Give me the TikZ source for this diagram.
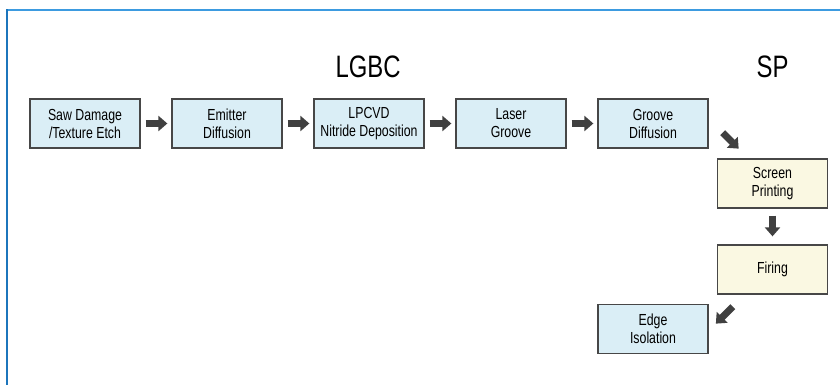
\documentclass[tikz,border=0pt]{standalone}
\usepackage{fontspec}
\setmainfont{Liberation Sans}[FakeStretch=0.77]
\usetikzlibrary{arrows.meta}

\definecolor{framebl}{HTML}{1C75BC}
\definecolor{framelt}{HTML}{3D9BE0}
\definecolor{stepbl}{HTML}{DAEEF6}
\definecolor{stepye}{HTML}{FAF8E2}
\definecolor{arrgr}{HTML}{404040}

\begin{document}
\begin{tikzpicture}[x=1pt,y=-1pt,
  proc/.style={draw=black!72,line width=1.3pt,minimum width=110pt,
    minimum height=49pt,inner sep=0pt,align=center,
    font=\fontsize{16}{18}\selectfont},
  lgbc/.style={proc,fill=stepbl},
  sp/.style={proc,fill=stepye},
  fat/.style={draw=arrgr,line width=7pt,-{Triangle[length=9pt,width=15pt]}},
  hdr/.style={font=\fontsize{31}{36}\selectfont}]
  \useasboundingbox (0,0) rectangle (840,385);
  \draw[framelt,line width=1.5pt] (7,10) -- (840,10);
  \draw[framebl,line width=1.5pt] (7,385) -- (7,9.25);

  \node (lg) [hdr] at (368,67) {LGBC};
  \node (spt) [hdr] at (772.5,67) {SP};

  \node (sde) [lgbc] at (85,123.5) {Saw Damage\\/Texture Etch};
  \node (ed) [lgbc] at (227,123.5) {Emitter\\Diffusion};
  \node (nd) [lgbc] at (369,123.5) {LPCVD\\Nitride Deposition};
  \node (lgr) [lgbc] at (511,123.5) {Laser\\Groove};
  \node (gd) [lgbc] at (653,123.5) {Groove\\Diffusion};
  \node (scp) [sp] at (772.5,183.5) {Screen\\Printing};
  \node (fir) [sp] at (772.5,269.5) {Firing};
  \node (eis) [lgbc] at (653,329) {Edge\\Isolation};

  \draw[fat,shorten <=5pt,shorten >=4pt] (sde) -- (ed);
  \draw[fat,shorten <=5pt,shorten >=4pt] (ed) -- (nd);
  \draw[fat,shorten <=5pt,shorten >=4pt] (nd) -- (lgr);
  \draw[fat,shorten <=5pt,shorten >=4pt] (lgr) -- (gd);

  \path (gd.south east) +(14,-16) coordinate (gdo);
  \path (gd.south east) +(30,0) coordinate (scpi);
  \draw[fat] (gdo) -- (scpi);
  \draw[fat,shorten <=7pt,shorten >=8pt] (scp) -- (fir);
  \path (fir.south west) +(16,12) coordinate (firo);
  \path (fir.south west) +(-1,29) coordinate (eisi);
  \draw[fat] (firo) -- (eisi);
\end{tikzpicture}
\end{document}
